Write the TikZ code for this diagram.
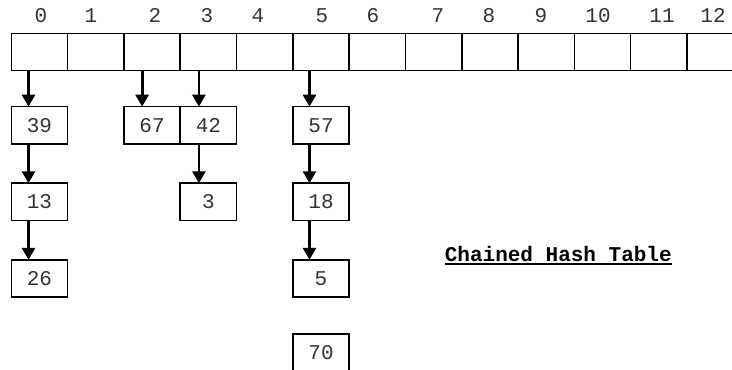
\documentclass[tikz,border=0pt]{standalone}
\usepackage{fontspec}
\setmonofont{Liberation Mono}
\usetikzlibrary{arrows.meta,positioning}

\begin{document}
\begin{tikzpicture}[
x=1pt,y=-1pt,
node distance=39.3pt,
cell/.style={draw,line width=1.6pt,outer sep=0pt,inner sep=0pt,minimum width=56.3pt,minimum height=37.3pt,font=\ttfamily\fontsize{21}{24}\selectfont,text=black!80},
index/.style={inner sep=0pt,font=\ttfamily\fontsize{21}{24}\selectfont,text=black!80},
arrow/.style={-{Triangle[length=12pt,width=13pt]},line width=2.8pt}
]
\clip (0,0) rectangle (732,370);

% the table
\foreach \i in {0,...,12}
  \node[cell] (c\i) at ({39.5+56.3*\i},52) {};
\foreach \i/\x in {0/41,1/91,2/155,3/207,4/258,5/322,6/373,7/438,8/489,9/541,10/598,11/662,12/713}
  \node[index] (l\i) at (\x,15.8) {\i};

% the chains
\node[cell,below=36pt of c0] (n39) {39};
\node[cell,below=of n39] (n13) {13};
\node[cell,below=of n13] (n26) {26};
\node[cell,below=36pt of c2] (n67) {67};
\node[cell,below=36pt of c3] (n42) {42};
\node[cell,below=of n42] (n3) {3};
\node[cell,below=36pt of c5] (n57) {57};
\node[cell,below=of n57] (n18) {18};
\node[cell,below=of n18] (n5) {5};
\node[cell,below=36.6pt of n5] (n70) {70};

\node[inner sep=0pt,anchor=base,font=\ttfamily\bfseries\fontsize{21}{24}\selectfont] (title) at (558.3,261.7) {Chained Hash Table};
\draw[line width=1.8pt] ([yshift=-2.5pt]title.base west) -- ([yshift=-2.5pt]title.base east);

\draw[arrow] ([xshift=-11pt]c0.south)--([xshift=-11pt]n39.north);
\draw[arrow] ([xshift=-11pt]n39.south)--([xshift=-11pt]n13.north);
\draw[arrow] ([xshift=-11pt]n13.south)--([xshift=-11pt]n26.north);
\draw[arrow] ([xshift=-10pt]c2.south)--([xshift=-10pt]n67.north);
\draw[arrow] ([xshift=-9.5pt]c3.south)--([xshift=-9.5pt]n42.north);
\draw[arrow] ([xshift=-9.5pt]n42.south)--([xshift=-9.5pt]n3.north);
\draw[arrow] ([xshift=-11.5pt]c5.south)--([xshift=-11.5pt]n57.north);
\draw[arrow] ([xshift=-11.5pt]n57.south)--([xshift=-11.5pt]n18.north);
\draw[arrow] ([xshift=-11.5pt]n18.south)--([xshift=-11.5pt]n5.north);
\end{tikzpicture}
\end{document}
